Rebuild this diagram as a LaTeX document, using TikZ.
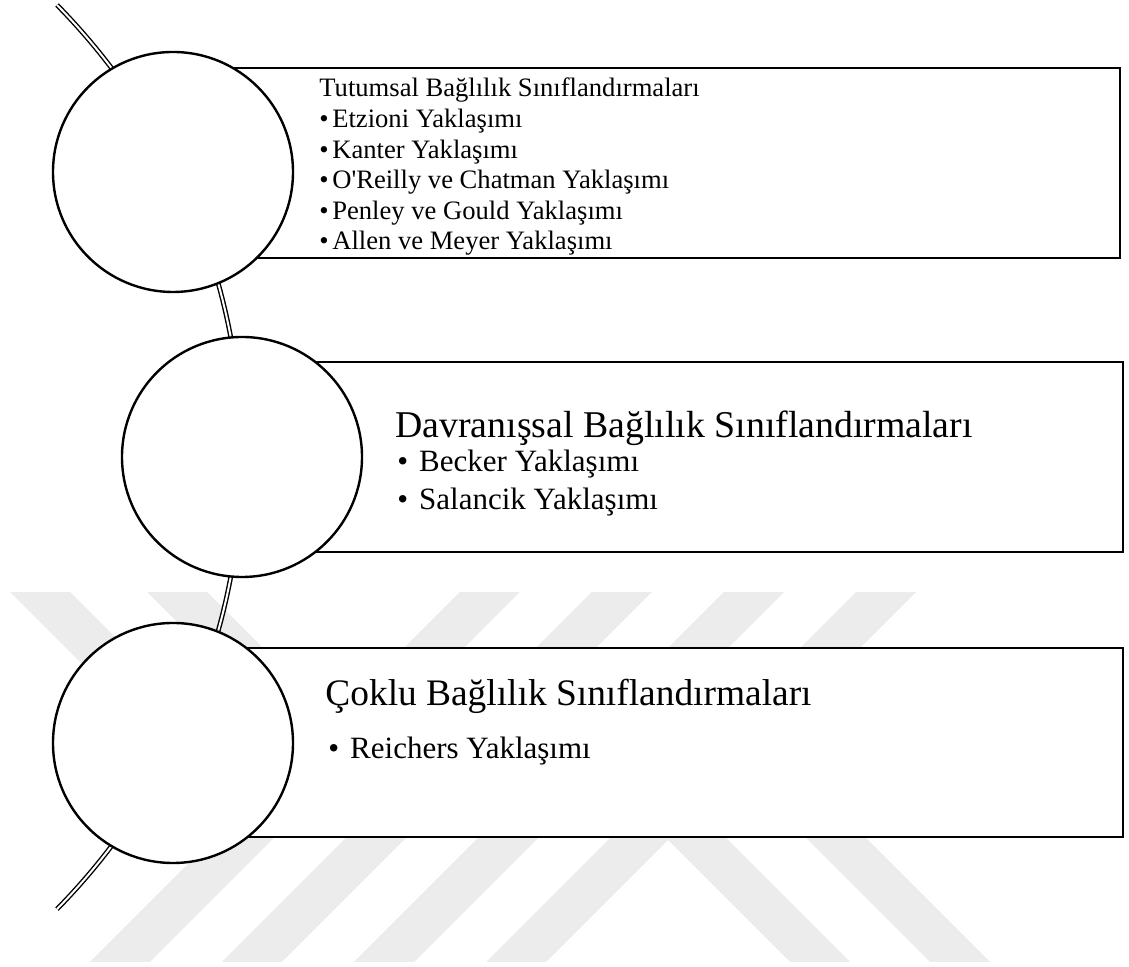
\documentclass[tikz,border=0pt]{standalone}
\usepackage{fontspec}
\setmainfont{Liberation Serif}
\definecolor{wmark}{gray}{0.925}
\newcommand{\headfont}{\fontsize{18.7}{22}\selectfont}
\newcommand{\listfont}{\fontsize{15.5}{18}\selectfont}
\newcommand{\tightfont}{\fontsize{13.3}{16}\selectfont}
\tikzset{
  bubble/.style={circle,draw=black,line width=1.2pt,fill=white,minimum size=120pt,inner sep=0pt},
  panel/.style={rectangle,draw=black,line width=1pt,fill=white,inner sep=0pt,anchor=west},
  rail/.style={draw=black,double=white,line width=0.7pt,double distance=1pt},
  band/.style={fill=wmark,draw=none},
  lbl/.style={anchor=base west,inner sep=0pt}
}
\begin{document}
\begin{tikzpicture}[x=0.5pt,y=0.5pt]
  \useasboundingbox (0,0) rectangle (1129,967);

  % faint watermark stripes
  \foreach \x in {460,592,724,856} \fill[band] (\x,375) -- ++(60,0) -- ++(-370,-370) -- ++(-60,0) -- cycle;
  \foreach \x in {10,147} \fill[band] (\x,375) -- ++(60,0) -- ++(125,-125) -- ++(-60,0) -- cycle;
  \foreach \x in {790,930} \fill[band] (\x,5) -- ++(60,0) -- ++(-195,195) -- ++(-60,0) -- cycle;

  \coordinate (railtop) at (57,962);
  \draw[rail] (railtop) arc[start angle=44.5,end angle=-44.5,radius=322.5pt];

  \node[panel,minimum width=473pt,minimum height=95pt] (b1) at (173,804) {};
  \node[panel,minimum width=440pt,minimum height=95pt] (b2) at (242,510) {};
  \node[panel,minimum width=474.5pt,minimum height=94.5pt] (b3) at (173,224.5) {};

  \node[bubble] (c1) at (173,795) {};
  \node[bubble] (c2) at (242,510) {};
  \node[bubble] (c3) at (173,224) {};

  \node[lbl,font=\tightfont] (h1) at (319,870) {Tutumsal Bağlılık Sınıflandırmaları};
  \foreach \name [count=\i] in {Etzioni,Kanter,O\textquotesingle Reilly ve Chatman,Penley ve Gould,Allen ve Meyer}
    \node[lbl,font=\tightfont] (i1-\i) at (319,870-30.6*\i) {\textbullet\hspace{1.8pt}\name{} Yaklaşımı};

  \node[lbl,font=\fontsize{18.9}{22}\selectfont] (h2) at (395,529) {Davranışsal Bağlılık Sınıflandırmaları};
  \node[lbl,font=\listfont] (i2-1) at (397,495) {\textbullet\hspace{5.5pt}Becker Yaklaşımı};
  \node[lbl,font=\listfont] (i2-2) at (397,457) {\textbullet\hspace{5.5pt}Salancik Yaklaşımı};

  \node[lbl,font=\headfont] (h3) at (325,261) {Çoklu Bağlılık Sınıflandırmaları};
  \node[lbl,font=\listfont] (i3-1) at (328,208) {\textbullet\hspace{5.5pt}Reichers Yaklaşımı};
\end{tikzpicture}
\end{document}
